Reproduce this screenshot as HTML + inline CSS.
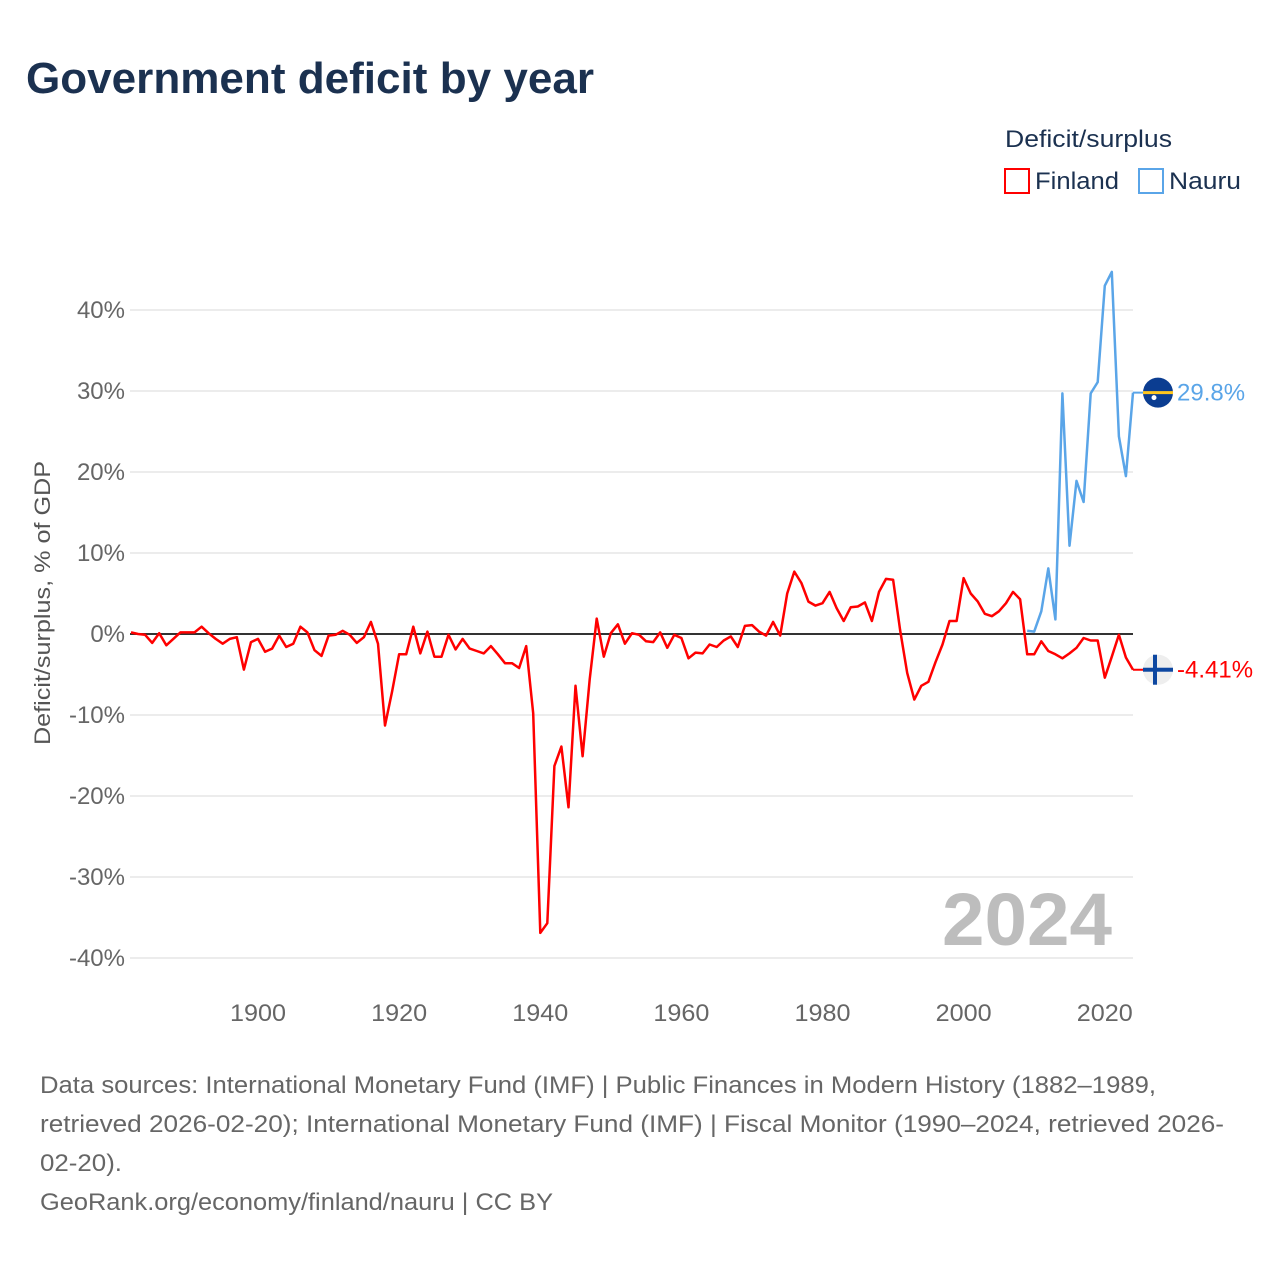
<!DOCTYPE html>
<html><head><meta charset="utf-8">
<style>
html,body{margin:0;padding:0;background:#fff;}
svg{display:block;font-family:"Liberation Sans",sans-serif;}
</style></head>
<body>
<svg id="chart" width="1280" height="1280" viewBox="0 0 1280 1280" xmlns="http://www.w3.org/2000/svg">
<text x="26" y="93" font-size="44" font-weight="bold" fill="#1b3150" textLength="568" lengthAdjust="spacingAndGlyphs">Government deficit by year</text>
<text x="1005" y="147" font-size="24" fill="#1b3150" textLength="167" lengthAdjust="spacingAndGlyphs">Deficit/surplus</text>
<g>
<rect x="1005" y="169" width="24" height="24" fill="none" stroke="#ff0000" stroke-width="2"/>
<text x="1035" y="189" font-size="24" fill="#1b3150" textLength="84" lengthAdjust="spacingAndGlyphs">Finland</text></g>
<g>
<rect x="1139" y="169" width="24" height="24" fill="none" stroke="#5aa5e8" stroke-width="2"/>
<text x="1169" y="189" font-size="24" fill="#1b3150" textLength="72" lengthAdjust="spacingAndGlyphs">Nauru</text></g>
<g id="grid"></g>
<g id="yticks"></g>
<g id="xticks"></g>
<text transform="translate(50,603) rotate(-90)" text-anchor="middle" font-size="22" fill="#555" textLength="284" lengthAdjust="spacingAndGlyphs">Deficit/surplus, % of GDP</text>
<text x="1112" y="945" text-anchor="end" font-size="74" font-weight="bold" fill="#bdbdbd" textLength="170" lengthAdjust="spacingAndGlyphs">2024</text>
<g id="series"></g>
<g font-size="24" fill="#666">
<text x="40" y="1093" textLength="1116" lengthAdjust="spacingAndGlyphs">Data sources: International Monetary Fund (IMF) | Public Finances in Modern History (1882–1989,</text>
<text x="40" y="1132" textLength="1184" lengthAdjust="spacingAndGlyphs">retrieved 2026-02-20); International Monetary Fund (IMF) | Fiscal Monitor (1990–2024, retrieved 2026-</text>
<text x="40" y="1171" textLength="82" lengthAdjust="spacingAndGlyphs">02-20).</text>
<text x="40" y="1210" textLength="513" lengthAdjust="spacingAndGlyphs">GeoRank.org/economy/finland/nauru | CC BY</text>
</g>
</svg>
<script>
const finlandStart = 1882;
const finlandValues = [0.2,0,-0.1,-1.1,0.1,-1.4,-0.6,0.2,0.2,0.2,0.9,0.1,-0.6,-1.2,-0.6,-0.4,-4.4,-1.0,-0.6,-2.2,
-1.8,-0.2,-1.6,-1.2,0.9,0.2,-2.0,-2.7,-0.2,-0.1,0.4,-0.1,-1.1,-0.4,1.5,-1.2,-11.3,-7.1,-2.5,-2.5,
0.9,-2.4,0.3,-2.8,-2.8,-0.1,-1.9,-0.6,-1.8,-2.1,-2.4,-1.5,-2.5,-3.6,-3.6,-4.2,-1.5,-9.8,-36.9,-35.7,
-16.3,-13.9,-21.4,-6.4,-15.1,-5.6,1.9,-2.8,0.1,1.2,-1.2,0.1,-0.1,-0.9,-1.0,0.2,-1.7,-0.1,-0.5,-3.0,
-2.3,-2.4,-1.3,-1.6,-0.8,-0.3,-1.6,1.0,1.1,0.3,-0.2,1.5,-0.2,5.0,7.7,6.3,4.0,3.5,3.8,5.2,
3.2,1.6,3.3,3.4,3.9,1.6,5.2,6.8,6.7,0.5,-4.8,-8.1,-6.4,-5.9,-3.5,-1.3,1.6,1.6,6.9,5.0,
4.0,2.5,2.2,2.8,3.8,5.2,4.3,-2.5,-2.5,-0.9,-2.1,-2.5,-3.0,-2.4,-1.7,-0.5,-0.8,-0.8,-5.4,-2.8,
-0.1,-2.9,-4.41];
const nauruStart = 2009;
const nauruValues = [0.4,0.3,2.8,8.1,1.8,29.7,10.9,18.9,16.3,29.7,31.1,43.0,44.7,24.4,19.5,29.8];
const yTicks = [40,30,20,10,0,-10,-20,-30,-40];
const xTicks = [1900,1920,1940,1960,1980,2000,2020];
const finlandLabel = "-4.41%";
const nauruLabel = "29.8%";

const NS = "http://www.w3.org/2000/svg";
const X0 = 131, X1 = 1133, YR0 = 1882, YR1 = 2024;
const xs = yr => X0 + (yr - YR0) * (X1 - X0) / (YR1 - YR0);
const ys = v => 634 - v * 8.1;
function mk(tag, attrs, parent){const e=document.createElementNS(NS,tag);for(const k in attrs)e.setAttribute(k,attrs[k]);parent.appendChild(e);return e;}
const grid=document.getElementById('grid'), yt=document.getElementById('yticks'), xt=document.getElementById('xticks'), ser=document.getElementById('series');
yTicks.forEach(t=>{
  if(t!==0){const l=mk('line',{x1:130,x2:1133,y1:ys(t),y2:ys(t),stroke:'#e6e6e6','stroke-width':1.5},grid);
  
  }
  const tx=mk('text',{x:125,y:ys(t)+8,'text-anchor':'end','font-size':24,fill:'#666'},yt);
  tx.textContent=t+'%';
  
  
});
xTicks.forEach(t=>{
  const tx=mk('text',{x:xs(t),y:1021,'text-anchor':'middle','font-size':24,fill:'#666',textLength:56,lengthAdjust:'spacingAndGlyphs'},xt);
  tx.textContent=t;
  
  
});
const zl=mk('line',{x1:130,x2:1133,y1:ys(0),y2:ys(0),stroke:'#333','stroke-width':2},grid);


function line(start, vals, color, name){
  const d=vals.map((v,i)=>(i?'L':'M')+xs(start+i).toFixed(1)+','+ys(v).toFixed(1)).join('');
  const p=mk('path',{d:d,fill:'none',stroke:color,'stroke-width':2.5,'stroke-linejoin':'round'},ser);
  
  
}
line(finlandStart, finlandValues, '#ff0000', 'finland-line');
line(nauruStart, nauruValues, '#5aa5e8', 'nauru-line');
const fv=finlandValues[finlandValues.length-1], nv=nauruValues[nauruValues.length-1];
const lx=xs(YR1);
const cx=1158;
const fl=mk('line',{x1:lx,x2:cx,y1:ys(fv),y2:ys(fv),stroke:'#ff0000','stroke-width':2},ser);


const nl=mk('line',{x1:lx,x2:cx,y1:ys(nv),y2:ys(nv),stroke:'#5aa5e8','stroke-width':2},ser);


const ng=mk('g',{},ser);


mk('circle',{cx:cx,cy:ys(nv),r:15,fill:'#0b3d91'},ng);
mk('rect',{x:cx-15,y:ys(nv)-1.5,width:30,height:3,fill:'#ffc61e'},ng);
mk('circle',{cx:cx-4,cy:ys(nv)+5,r:2.5,fill:'#fff'},ng);
const fg=mk('g',{},ser);


mk('circle',{cx:cx,cy:ys(fv),r:15,fill:'#eeeeee'},fg);
mk('rect',{x:cx-15,y:ys(fv)-2,width:30,height:4,fill:'#0d47a1'},fg);
mk('rect',{x:cx-5,y:ys(fv)-15,width:4,height:30,fill:'#0d47a1'},fg);
const nt=mk('text',{x:1177,y:ys(nv)+8,'font-size':24,fill:'#5aa5e8'},ser);
nt.textContent=nauruLabel;


const ft=mk('text',{x:1177,y:ys(fv)+8,'font-size':24,fill:'#ff0000'},ser);
ft.textContent=finlandLabel;


</script>
</body></html>
